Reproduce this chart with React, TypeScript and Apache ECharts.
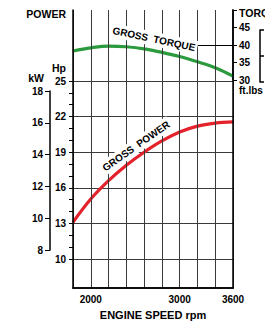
import React, { useEffect, useRef } from "react";
import * as echarts from "echarts";

const RPM = [1800, 2000, 2200, 2400, 2600, 2800, 3000, 3200, 3400, 3600];
const POWER_HP = [13.1, 15.05, 16.6, 17.9, 19.0, 19.95, 20.7, 21.2, 21.45, 21.55];
const TORQUE_FTLB = [38.3, 39.2, 39.7, 39.5, 38.9, 37.9, 36.7, 35.2, 33.5, 31.1];
const X_LABELS = [2000, 3000, 3600];
const TORQUE_REF = { from: 3200, to: 3600, value: 40 };

const FONT = "Liberation Sans, Arial, Helvetica, sans-serif";
const RED = "#e3222b";
const GREEN = "#2a9a3c";
const GRIDC = "#3a3a3a";

export default function App() {
  const ref = useRef<HTMLDivElement>(null);
  useEffect(() => {
    if (!ref.current) return;
    const chart = echarts.init(ref.current, null, { renderer: "svg" });
    const lbl = { fontFamily: FONT, fontWeight: "bold", fontSize: 10, color: "#000" };
    const hiddenX = (gridIndex: number) => ({ type: "value", gridIndex, min: 1800, max: 3600, show: false });
    const frameLine = { show: true, lineStyle: { color: "#000", width: 1.5 } };
    const option: any = {
      animation: false,
      backgroundColor: "#fff",
      grid: [
        { left: 73, right: 32, top: 10, bottom: 31 },
        { left: 73, right: 32, top: 81, bottom: 66 },
        { left: 73, right: 32, top: 10, bottom: 245 },
        { left: 50, right: 214, top: 91, bottom: 75 },
        { left: 260, right: 4, top: 30, bottom: 243 },
      ],
      xAxis: [
        {
          type: "value", gridIndex: 0, min: 1800, max: 3600, interval: 200, position: "bottom",
          axisLine: frameLine, axisTick: { show: false },
          splitLine: { show: true, lineStyle: { color: GRIDC, width: 1 } },
          axisLabel: { ...lbl, margin: 6, formatter: (v: number) => (X_LABELS.includes(v) ? String(v) : "") },
          name: "ENGINE SPEED rpm", nameLocation: "middle", nameGap: 21,
          nameTextStyle: { fontFamily: FONT, fontWeight: "bold", fontSize: 11, color: "#000" },
          z: 5,
        },
        {
          type: "value", gridIndex: 0, min: 1800, max: 3600, position: "top",
          axisLine: frameLine, axisTick: { show: false }, axisLabel: { show: false }, splitLine: { show: false }, z: 5,
        },
        hiddenX(1), hiddenX(2), hiddenX(3), hiddenX(4),
      ],
      yAxis: [
        { type: "value", gridIndex: 0, min: 0, max: 1, position: "left", axisLine: frameLine, axisTick: { show: false }, axisLabel: { show: false }, splitLine: { show: false }, z: 5 },
        { type: "value", gridIndex: 0, min: 0, max: 1, position: "right", axisLine: frameLine, axisTick: { show: false }, axisLabel: { show: false }, splitLine: { show: false }, z: 5 },
        {
          type: "value", gridIndex: 1, min: 10, max: 25, interval: 3, position: "left",
          axisLine: { show: false },
          axisTick: { show: true, length: 4, lineStyle: { color: "#000", width: 1 } },
          minorTick: { show: true, splitNumber: 3, length: 4, lineStyle: { color: "#000", width: 1 } },
          splitLine: { show: true, lineStyle: { color: GRIDC, width: 1 } },
          axisLabel: { ...lbl, margin: 7 },
        },
        {
          type: "value", gridIndex: 2, min: 30, max: 50, interval: 5, position: "right",
          axisLine: frameLine,
          axisTick: { show: true, length: 4, lineStyle: { color: "#000", width: 1 } },
          splitLine: { show: false },
          axisLabel: { ...lbl, margin: 6, formatter: (v: number) => (v === 50 ? "" : String(v)) },
        },
        {
          type: "value", gridIndex: 3, min: 8, max: 18, interval: 2, position: "left",
          axisLine: frameLine,
          axisTick: { show: true, length: 5, lineStyle: { color: "#000", width: 1 } },
          splitLine: { show: false },
          axisLabel: { ...lbl, margin: 7 },
        },
        {
          type: "value", gridIndex: 4, min: 40, max: 60, interval: 10, position: "left",
          axisLine: frameLine,
          axisTick: { show: true, inside: true, length: 4, lineStyle: { color: "#000", width: 1.5 } },
          splitLine: { show: false },
          axisLabel: { show: false },
        },
      ],
      series: [
        {
          type: "line", name: "GROSS POWER", xAxisIndex: 2, yAxisIndex: 2,
          data: RPM.map((r, i) => [r, POWER_HP[i]]),
          smooth: 0.35, symbol: "none", lineStyle: { color: RED, width: 3.2 }, z: 3,
        },
        {
          type: "line", name: "GROSS TORQUE", xAxisIndex: 3, yAxisIndex: 3,
          data: RPM.map((r, i) => [r, TORQUE_FTLB[i]]),
          smooth: 0.35, symbol: "none", lineStyle: { color: GREEN, width: 3.2 }, z: 3,
          markLine: {
            silent: true, symbol: "none", label: { show: false },
            lineStyle: { color: "#000", width: 1, type: "solid" },
            data: [[{ coord: [TORQUE_REF.from, TORQUE_REF.value] }, { coord: [TORQUE_REF.to, TORQUE_REF.value] }]],
          },
        },
      ],
      graphic: [
        { type: "text", x: 66, y: 14, style: { text: "POWER", font: `bold 10.5px ${FONT}`, fill: "#000", align: "right", verticalAlign: "middle" } },
        { type: "text", x: 59, y: 68, style: { text: "Hp", font: `bold 10.5px ${FONT}`, fill: "#000", align: "center", verticalAlign: "middle" } },
        { type: "text", x: 36, y: 78, style: { text: "kW", font: `bold 10.5px ${FONT}`, fill: "#000", align: "center", verticalAlign: "middle" } },
        { type: "text", x: 239, y: 13, style: { text: "TORQUE", font: `bold 10.5px ${FONT}`, fill: "#000", align: "left", verticalAlign: "middle" } },
        { type: "text", x: 239, y: 90, style: { text: "ft.lbs", font: `bold 10px ${FONT}`, fill: "#000", align: "left", verticalAlign: "middle" } },
        {
          type: "text", x: 154, y: 39, rotation: (-12 * Math.PI) / 180, z: 50,
          style: { text: "GROSS  TORQUE", font: `bold 10px ${FONT}`, fill: "#000", align: "center", verticalAlign: "middle", backgroundColor: "#fff", padding: [2, 2] },
        },
        {
          type: "text", x: 136, y: 146, rotation: (35 * Math.PI) / 180, z: 50,
          style: { text: "GROSS  POWER", font: `bold 10px ${FONT}`, fill: "#000", align: "center", verticalAlign: "middle", backgroundColor: "#fff", padding: [2, 2] },
        },
      ],
    };
    chart.setOption(option);
    return () => chart.dispose();
  }, []);
  return <div ref={ref} style={{ position: "absolute", left: 0, top: 0, width: 265, height: 325 }} />;
}
